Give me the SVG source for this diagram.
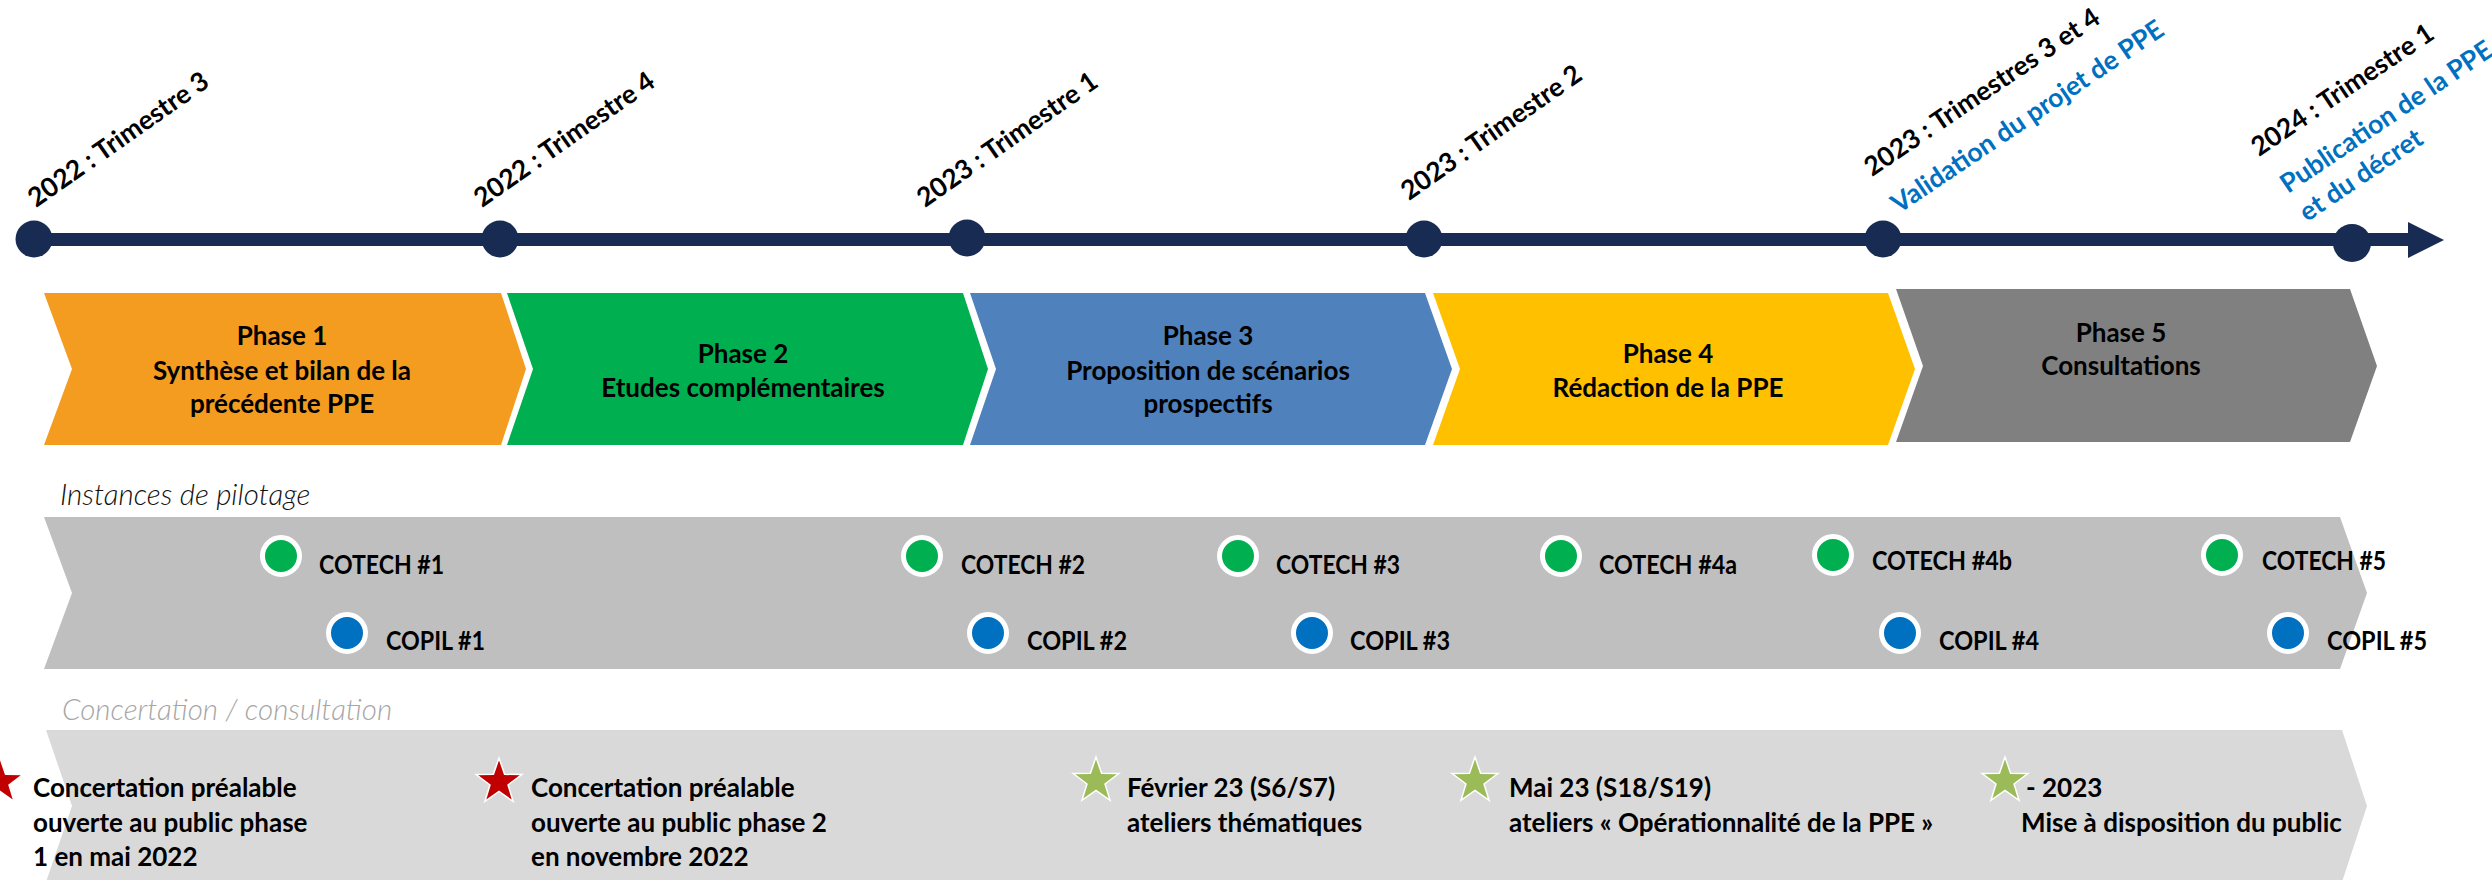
<svg xmlns="http://www.w3.org/2000/svg" width="2492" height="880" viewBox="0 0 2492 880">
<style>
.t{font-family:Lato,'Liberation Sans',sans-serif;font-weight:700;font-size:26px;fill:#000}
.r{font-size:26.5px}
.m{text-anchor:middle}
.bl{fill:#0070C0}
.hd{font-family:Lato,'Liberation Sans',sans-serif;font-style:italic;font-weight:300;font-size:29.5px}
.dot{fill:#172B53}
.cg{fill:#00B050;stroke:#fff;stroke-width:5}
.cb{fill:#0070C0;stroke:#fff;stroke-width:5}
.sr{fill:#C00000;stroke:#fff;stroke-width:1.5}
.sg{fill:#9BBB59;stroke:#fff;stroke-width:1.5}
</style>
<defs>
<path id="star" d="M0,-24 L5.58,-7.69 L22.83,-7.42 L9.04,2.94 L14.11,19.42 L0,9.5 L-14.11,19.42 L-9.04,2.94 L-22.83,-7.42 L-5.58,-7.69 Z"/>
</defs>
<rect width="2492" height="880" fill="#fff"/>

<g id="bands">
<polygon points="44,517 2340,517 2367,593 2340,669 44,669 72,593" fill="#BFBFBF"/>
<polygon points="46,730 2342,730 2367,806 2342,882 46,882 72,806" fill="#D9D9D9"/>
</g>

<g id="connectors">
<rect x="34" y="233" width="2376" height="13" fill="#172B53"/>
<polygon points="2408,222 2444,240 2408,258" fill="#172B53"/>
</g>

<g id="m1"><circle class="dot" cx="34" cy="239" r="18.5"/><text class="t r" transform="translate(36,208) rotate(-35)">2022 : Trimestre 3</text></g>
<g id="m2"><circle class="dot" cx="500" cy="239" r="18.5"/><text class="t r" transform="translate(482,208) rotate(-35)">2022 : Trimestre 4</text></g>
<g id="m3"><circle class="dot" cx="967" cy="238" r="18.5"/><text class="t r" transform="translate(925,208) rotate(-35)">2023 : Trimestre 1</text></g>
<g id="m4"><circle class="dot" cx="1424" cy="239" r="18.5"/><text class="t r" transform="translate(1409,201) rotate(-35)">2023 : Trimestre 2</text></g>
<g id="m5"><circle class="dot" cx="1883" cy="239" r="18.5"/><text class="t r" transform="translate(1872,177) rotate(-34)">2023 : Trimestres 3 et 4</text><text class="t r bl" transform="translate(1899,214) rotate(-34)">Validation du projet de PPE</text></g>
<g id="m6"><circle class="dot" cx="2352" cy="243" r="19"/><text class="t r" transform="translate(2259,157) rotate(-34)">2024 : Trimestre 1</text><text class="t r bl" transform="translate(2288,194) rotate(-34)"><tspan x="0" y="0">Publication de la PPE</tspan><tspan x="0" y="34">et du décret</tspan></text></g>

<g id="phase1"><polygon points="44,293 501,293 526,369 501,445 44,445 72,369" fill="#F39C1F"/><text class="t m"><tspan x="282" y="345">Phase 1</tspan><tspan x="282" y="380">Synthèse et bilan de la</tspan><tspan x="282" y="413">précédente PPE</tspan></text></g>
<g id="phase2"><polygon points="507,293 963,293 988,369 963,445 507,445 533,369" fill="#00B050"/><text class="t m"><tspan x="743" y="363">Phase 2</tspan><tspan x="743" y="397">Etudes complémentaires</tspan></text></g>
<g id="phase3"><polygon points="970,293 1425,293 1452,369 1425,445 970,445 996,369" fill="#4F81BD"/><text class="t m"><tspan x="1208" y="345">Phase 3</tspan><tspan x="1208" y="380">Proposition de scénarios</tspan><tspan x="1208" y="413">prospectifs</tspan></text></g>
<g id="phase4"><polygon points="1433,293 1888,293 1915,369 1888,445 1433,445 1460,369" fill="#FFC000"/><text class="t m"><tspan x="1668" y="363">Phase 4</tspan><tspan x="1668" y="397">Rédaction de la PPE</tspan></text></g>
<g id="phase5"><polygon points="1896,289 2350,289 2377,366 2350,442 1896,442 1923,366" fill="#808080"/><text class="t m"><tspan x="2121" y="342">Phase 5</tspan><tspan x="2121" y="375">Consultations</tspan></text></g>

<text class="hd" x="60" y="505" fill="#111">Instances de pilotage</text>
<text class="hd" x="62" y="720" fill="#A6A6A6">Concertation / consultation</text>

<g id="cotech1"><circle class="cg" cx="281" cy="556" r="18.5"/><text class="t" x="319" y="574" textLength="125" lengthAdjust="spacingAndGlyphs">COTECH #1</text></g>
<g id="cotech2"><circle class="cg" cx="922" cy="556" r="18.5"/><text class="t" x="961" y="574" textLength="124" lengthAdjust="spacingAndGlyphs">COTECH #2</text></g>
<g id="cotech3"><circle class="cg" cx="1238" cy="556" r="18.5"/><text class="t" x="1276" y="574" textLength="124" lengthAdjust="spacingAndGlyphs">COTECH #3</text></g>
<g id="cotech4a"><circle class="cg" cx="1561" cy="556" r="18.5"/><text class="t" x="1599" y="574" textLength="138" lengthAdjust="spacingAndGlyphs">COTECH #4a</text></g>
<g id="cotech4b"><circle class="cg" cx="1833" cy="555" r="18.5"/><text class="t" x="1872" y="570" textLength="140" lengthAdjust="spacingAndGlyphs">COTECH #4b</text></g>
<g id="cotech5"><circle class="cg" cx="2222" cy="555" r="18.5"/><text class="t" x="2262" y="570" textLength="124" lengthAdjust="spacingAndGlyphs">COTECH #5</text></g>

<g id="copil1"><circle class="cb" cx="347" cy="633" r="18.5"/><text class="t" x="386" y="650" textLength="99" lengthAdjust="spacingAndGlyphs">COPIL #1</text></g>
<g id="copil2"><circle class="cb" cx="988" cy="633" r="18.5"/><text class="t" x="1027" y="650" textLength="100" lengthAdjust="spacingAndGlyphs">COPIL #2</text></g>
<g id="copil3"><circle class="cb" cx="1312" cy="633" r="18.5"/><text class="t" x="1350" y="650" textLength="100" lengthAdjust="spacingAndGlyphs">COPIL #3</text></g>
<g id="copil4"><circle class="cb" cx="1900" cy="633" r="18.5"/><text class="t" x="1939" y="650" textLength="100" lengthAdjust="spacingAndGlyphs">COPIL #4</text></g>
<g id="copil5"><circle class="cb" cx="2288" cy="633" r="18.5"/><text class="t" x="2327" y="650" textLength="100" lengthAdjust="spacingAndGlyphs">COPIL #5</text></g>

<g id="c1"><use href="#star" class="sr" x="0" y="782"/><text class="t"><tspan x="33" y="797">Concertation préalable</tspan><tspan x="33" y="832">ouverte au public phase</tspan><tspan x="33" y="866">1 en mai 2022</tspan></text></g>
<g id="c2"><use href="#star" class="sr" x="499" y="782"/><text class="t"><tspan x="531" y="797">Concertation préalable</tspan><tspan x="531" y="832">ouverte au public phase 2</tspan><tspan x="531" y="866">en novembre 2022</tspan></text></g>
<g id="c3"><use href="#star" class="sg" x="1096" y="781"/><text class="t"><tspan x="1127" y="797">Février 23 (S6/S7)</tspan><tspan x="1127" y="832">ateliers thématiques</tspan></text></g>
<g id="c4"><use href="#star" class="sg" x="1475" y="781"/><text class="t"><tspan x="1509" y="797">Mai 23 (S18/S19)</tspan><tspan x="1509" y="832">ateliers « Opérationnalité de la PPE »</tspan></text></g>
<g id="c5"><use href="#star" class="sg" x="2005" y="781"/><text class="t"><tspan x="2026" y="797">- 2023</tspan><tspan x="2021" y="832">Mise à disposition du public</tspan></text></g>
</svg>
